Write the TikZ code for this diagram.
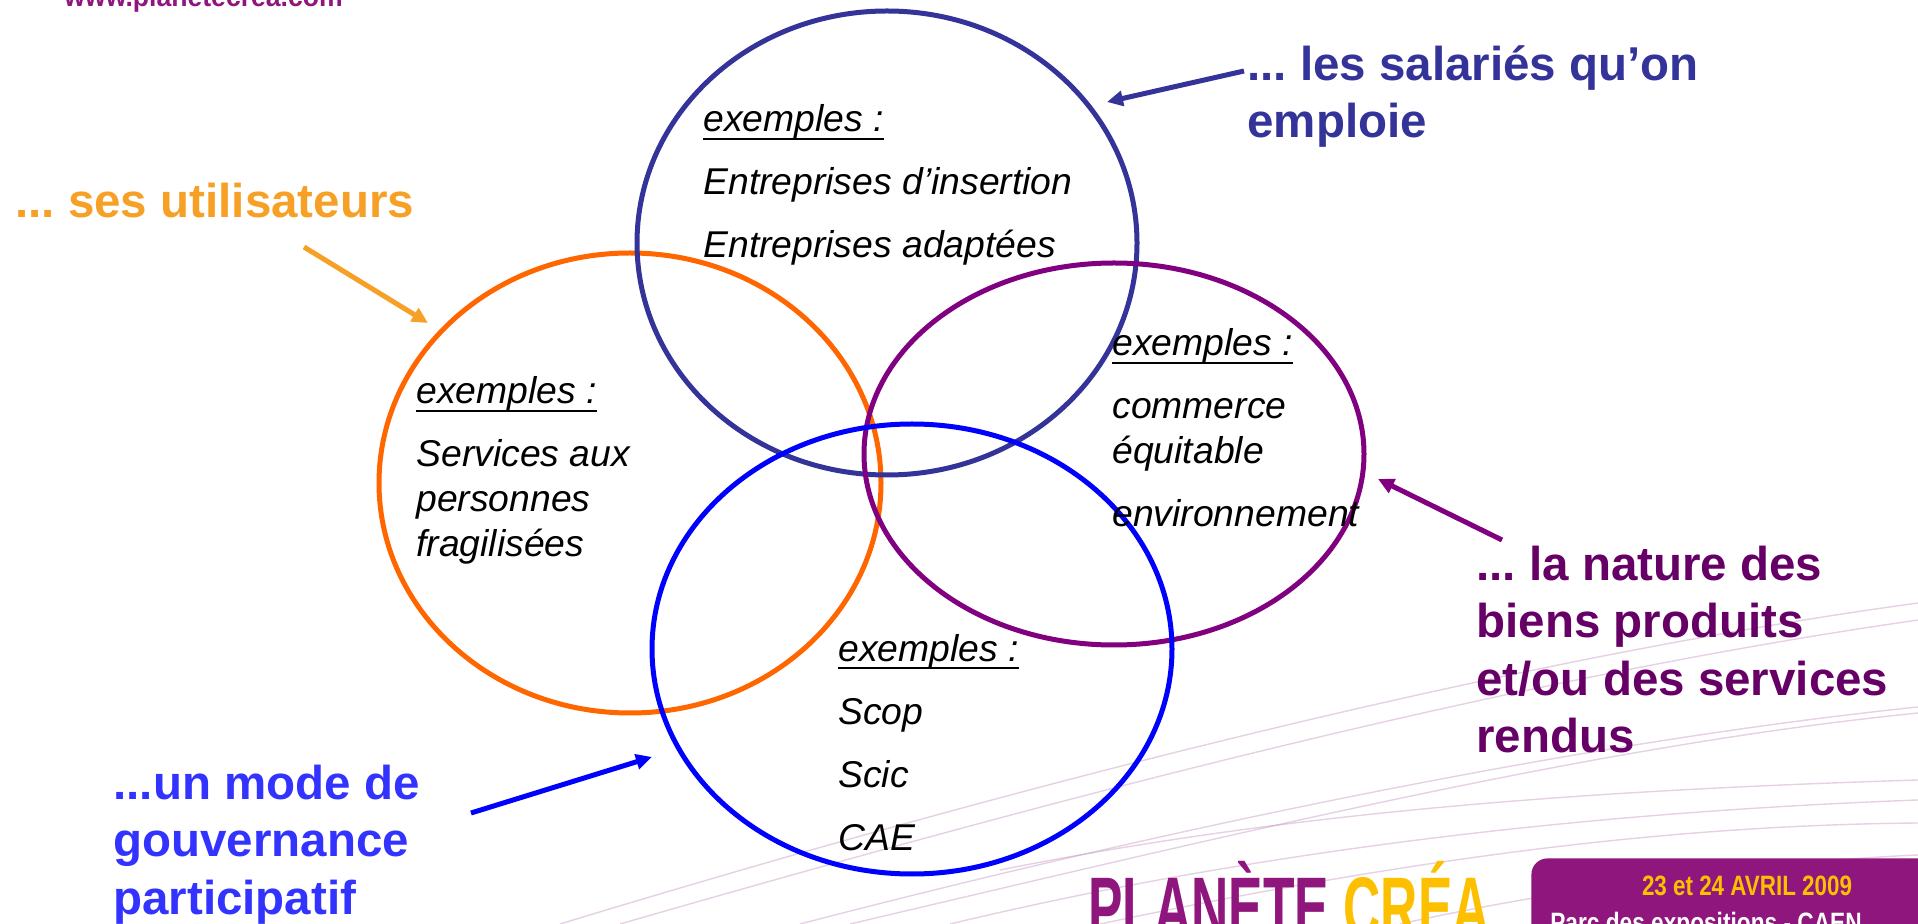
\documentclass[tikz,border=0pt]{standalone}
\usepackage{fontspec}
\setmainfont{Liberation Sans}
\usepackage{graphicx}
\usetikzlibrary{shapes.geometric}
\usetikzlibrary{arrows.meta}
\definecolor{setnavy}{RGB}{51,51,153}
\definecolor{setorange}{RGB}{255,102,0}
\definecolor{labelorange}{RGB}{247,160,38}
\definecolor{setpurple}{RGB}{128,0,128}
\definecolor{labelpurple}{RGB}{102,0,102}
\definecolor{setblue}{RGB}{0,0,255}
\definecolor{labelblue}{RGB}{51,51,255}
\definecolor{creapurple}{RGB}{143,22,125}
\definecolor{creayellow}{RGB}{252,192,0}
\definecolor{swoosh}{RGB}{190,140,185}
\tikzstyle{set}=[ellipse, draw, line width=2.5pt, inner sep=0]
\tikzstyle{pointer}=[line width=2.5pt, -{Triangle[length=8pt, width=7.5pt]}]
\tikzstyle{reason}=[inner sep=0, anchor=base west, align=left, font=\fontsize{23.75}{28.75}\selectfont\bfseries]
\tikzstyle{examples}=[inner sep=0, anchor=base west, align=left, font=\fontsize{18.65}{22.5}\selectfont\itshape]
\tikzstyle{swoosh line}=[draw=swoosh, line width=0.7pt, opacity=0.4]
\newcommand{\exhead}{\setbox0\hbox{exemples :}\rlap{\rule[-4pt]{\wd0}{1pt}}\box0}

\begin{document}
\frenchspacing
\begin{tikzpicture}[x=0.5pt, y=-0.5pt]
      \useasboundingbox (0, 0) rectangle (1918, 924);

      % background swooshes
      \path[swoosh line] (560, 924) .. controls (1000, 790) and (1500, 660) .. (1918, 603);
      \path[swoosh line] (620, 924) .. controls (1050, 800) and (1500, 680) .. (1918, 620);
      \path[swoosh line] (800, 924) .. controls (1200, 820) and (1600, 740) .. (1918, 707);
      \path[swoosh line] (850, 924) .. controls (1250, 830) and (1600, 745) .. (1918, 713);
      \path[swoosh line] (1000, 870) .. controls (1300, 810) and (1600, 790) .. (1918, 780);
      \path[swoosh line] (950, 924) .. controls (1300, 840) and (1650, 810) .. (1918, 800);
      \path[swoosh line] (1100, 924) .. controls (1450, 850) and (1700, 825) .. (1918, 823);
      \path[swoosh line] (1400, 924) .. controls (1600, 880) and (1800, 860) .. (1918, 855);

      \node[set, draw=setorange, minimum width=251pt, minimum height=230pt] (users_set) at (630, 483) {};
      \node[set, draw=setnavy, minimum width=250pt, minimum height=232pt] (staff_set) at (887, 243) {};
      \node[set, draw=setpurple, minimum width=250pt, minimum height=191pt] (goods_set) at (1114, 454) {};
      \node[set, draw=setblue, minimum width=260pt, minimum height=225pt] (gov_set) at (912, 649) {};

      % multi-line nodes sit on the baseline of their last line
      \node[examples] (staff_ex) at (703, 258) {\exhead\\[9pt] Entreprises d’insertion\\[9pt] Entreprises adaptées};
      \node[examples] (users_ex) at (416, 557) {\exhead\\[9pt] Services aux\\ personnes\\ fragilisées};
      \node[examples] (goods_ex) at (1112, 527) {\exhead\\[9pt] commerce\\ équitable\\[9pt] environnement};
      \node[examples] (gov_ex) at (838, 850) {\exhead\\[9pt] Scop\\[9pt] Scic\\[9pt] CAE};

      \node[reason, text=labelorange] (users) at (15, 218) {... ses utilisateurs};
      \node[reason, text=setnavy] (staff) at (1247, 138) {... les salariés qu’on\\ emploie};
      \node[reason, text=labelpurple] (goods) at (1476, 753) {... la nature des\\ biens produits\\ et/ou des services\\ rendus};
      \node[reason, text=labelblue] (gov) at (113, 914) {...un mode de\\ gouvernance\\ participatif};

      \coordinate (users_tail) at (304, 247);
      \coordinate (users_tip) at (428, 323);
      \coordinate (staff_tail) at (1244, 71);
      \coordinate (staff_tip) at (1107, 102);
      \coordinate (goods_tail) at (1502, 540);
      \coordinate (goods_tip) at (1378, 479);
      \coordinate (gov_tail) at (471, 813);
      \coordinate (gov_tip) at (652, 757);

      \draw[pointer, labelorange] (users_tail) to (users_tip);
      \draw[pointer, setnavy] (staff_tail) to (staff_tip);
      \draw[pointer, setpurple] (goods_tail) to (goods_tip);
      \draw[pointer, setblue] (gov_tail) to (gov_tip);

      % logo and banner
      \node[inner sep=0, anchor=base west, font=\fontsize{14}{14}\selectfont\bfseries, text=creapurple] (url) at (64, 7) {\scalebox{0.95}[1]{www.planetecrea.com}};
      \node[inner sep=0, anchor=base west, font=\fontsize{43}{43}\selectfont\bfseries] (logo) at (1088, 937) {\scalebox{0.6}[1]{\textcolor{creapurple}{PLANÈTE} \textcolor{creayellow}{CRÉA}}};
      \node[fill=creapurple, rounded corners=8pt, anchor=north west, minimum width=220pt, minimum height=60pt, inner sep=0] (banner) at (1531, 858) {};
      \node[inner sep=0, anchor=base, font=\fontsize{14}{14}\selectfont\bfseries, text=creayellow] (dates) at (1747, 895) {\scalebox{0.8}[1]{23 et 24 AVRIL 2009}};
      \node[inner sep=0, anchor=base, font=\fontsize{14}{14}\selectfont\bfseries, text=white] (venue) at (1706, 932) {\scalebox{0.81}[1]{Parc des expositions - CAEN}};
    \end{tikzpicture}
\end{document}
